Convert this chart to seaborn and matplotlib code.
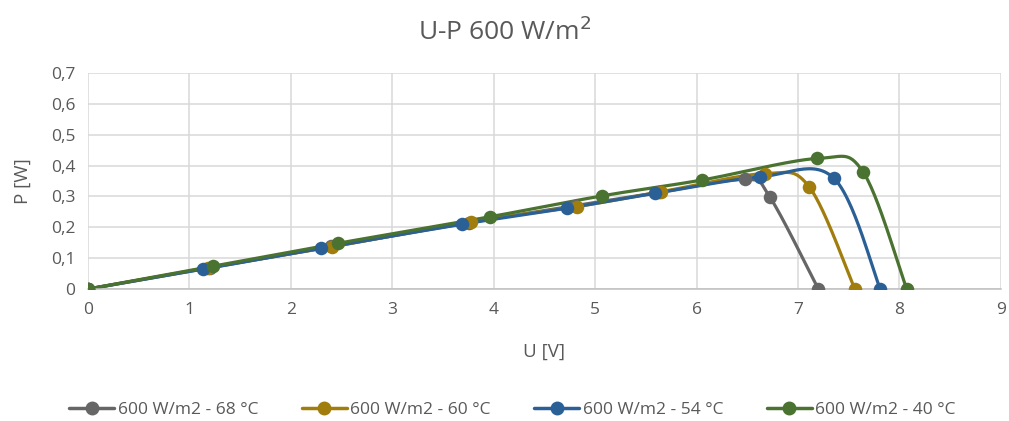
import numpy as np
import pandas as pd
import matplotlib
matplotlib.use("Agg")
import matplotlib.pyplot as plt
import seaborn as sns
from matplotlib.lines import Line2D

# ---- data ----
series_names = ["600 W/m2 - 68 °C", "600 W/m2 - 60 °C", "600 W/m2 - 54 °C", "600 W/m2 - 40 °C"]
u_68 = [0, 1.20, 2.40, 3.76, 4.80, 5.63, 6.48, 6.72, 7.20]
p_68 = [0, 0.069, 0.138, 0.215, 0.270, 0.313, 0.355, 0.299, 0]
u_60 = [0, 1.18, 2.41, 3.78, 4.82, 5.65, 6.67, 7.11, 7.56]
p_60 = [0, 0.069, 0.137, 0.218, 0.267, 0.315, 0.374, 0.331, 0]
u_54 = [0, 1.13, 2.30, 3.69, 4.72, 5.59, 6.62, 7.35, 7.81]
p_54 = [0, 0.064, 0.132, 0.210, 0.262, 0.310, 0.363, 0.360, 0]
u_40 = [0, 1.23, 2.46, 3.96, 5.07, 6.05, 7.19, 7.64, 8.07]
p_40 = [0, 0.074, 0.148, 0.234, 0.302, 0.353, 0.423, 0.380, 0]
x_ticks = [0, 1, 2, 3, 4, 5, 6, 7, 8, 9]
y_ticks = [0, 0.1, 0.2, 0.3, 0.4, 0.5, 0.6, 0.7]
y_tick_labels = ["0", "0,1", "0,2", "0,3", "0,4", "0,5", "0,6", "0,7"]

colors = ["#666666", "#A07D0C", "#2B6096", "#4A7230"]

sns.set_theme(style="white")
plt.rcParams['font.family'] = ['Open Sans', 'DejaVu Sans']

rows = []
for name, u, p in zip(series_names, [u_68, u_60, u_54, u_40], [p_68, p_60, p_54, p_40]):
    for a, b in zip(u, p):
        rows.append({"series": name, "U": a, "P": b})
df = pd.DataFrame(rows)


def smooth(x, y, n=30):
    pts = np.column_stack([x, y]).astype(float)
    ext = np.vstack([pts[0], pts, pts[-1]])
    out = []
    t = np.linspace(0, 1, n)[:, None]
    for i in range(1, len(ext) - 2):
        p0, p1, p2, p3 = ext[i - 1], ext[i], ext[i + 1], ext[i + 2]
        c1 = p1 + (p2 - p0) / 6.0
        c2 = p2 - (p3 - p1) / 6.0
        seg = ((1 - t) ** 3) * p1 + 3 * ((1 - t) ** 2) * t * c1 + 3 * (1 - t) * t ** 2 * c2 + t ** 3 * p2
        out.append(seg if i == 1 else seg[1:])
    s = np.vstack(out)
    return s[:, 0], s[:, 1]


fig = plt.figure(figsize=(10.09, 4.21), dpi=100)
ax = fig.add_axes([0.0872, 0.3135, 0.9048, 0.5131])

for name, col in zip(series_names, colors):
    d = df[df.series == name]
    sx, sy = smooth(d.U.values, d.P.values)
    sns.lineplot(x=sx, y=sy, ax=ax, color=col, lw=2.3, sort=False, estimator=None)
    sns.scatterplot(x=d.U.values, y=d.P.values, ax=ax, color=col, s=95, edgecolor=col,
                    linewidth=0, zorder=5)

ax.set_xlim(0, 9)
ax.set_ylim(0, 0.7)
ax.set_xticks(x_ticks)
ax.set_xticklabels([str(v) for v in x_ticks])
ax.set_yticks(y_ticks)
ax.set_yticklabels(y_tick_labels)
ax.grid(True, color="#D9D9D9", lw=1.1)
ax.set_axisbelow(True)
for s in ["top", "right", "left"]:
    ax.spines[s].set_visible(False)
ax.spines["bottom"].set_color("#BFBFBF")
ax.spines["bottom"].set_linewidth(1.1)
ax.tick_params(axis="both", colors="#595959", labelsize=12.5, length=0, pad=9)
for lab in ax.get_xticklabels() + ax.get_yticklabels():
    lab.set_color("#595959")

ax.set_xlabel("U [V]", fontsize=13.5, color="#595959", labelpad=18)
ax.set_ylabel("P [W]", fontsize=13.5, color="#595959", labelpad=14)
fig.text(0.5, 0.925, "U-P 600 W/m$^2$", ha="center", va="center", fontsize=19,
         color="#595959")

handles = [Line2D([0], [0], color=c, lw=2.5, marker="o", markersize=9) for c in colors]
fig.legend(handles, series_names, loc="center", bbox_to_anchor=(0.508, 0.027), ncol=4,
           frameon=False, fontsize=12.5, labelcolor="#595959", handlelength=2.6,
           handletextpad=0.2, columnspacing=2.5)

fig.savefig("out.png", dpi=100)
